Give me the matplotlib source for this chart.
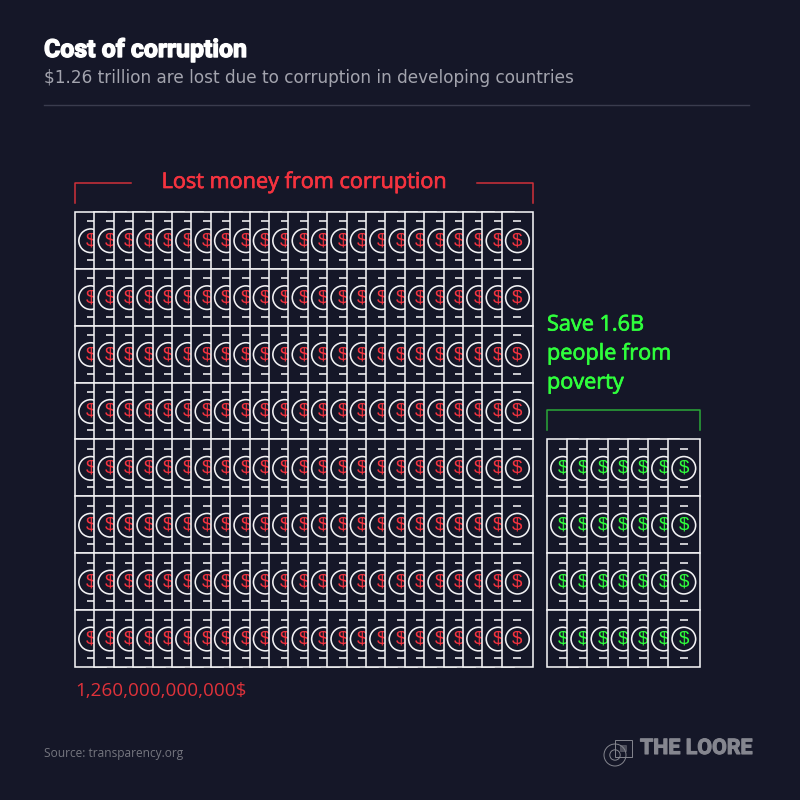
import matplotlib
matplotlib.use('Agg')
import matplotlib.pyplot as plt
from matplotlib.patches import Rectangle, Circle
import matplotlib.patheffects as pe

# one bill = one unit of money, the grid shape is what the picture shows
lost_rows = 8
lost_cols = 23
save_rows = 4
save_cols = 7

title = 'Cost of corruption'
subtitle = '$1.26 trillion are lost due to corruption in developing countries'
lost_label = 'Lost money from corruption'
lost_amount = '1,260,000,000,000$'
save_label = ['Save 1.6B', 'people from', 'poverty']
source = 'Source: transparency.org'
brand = 'THE LOORE'

bg = '#151728'
white = '#f2f2f4'
red = '#f5333f'
green = '#2fff3c'

bill_w = 31.3
bill_h = 56.9


def draw_bills(ax, left, bottom, rows, cols, step, color):
    top = bottom - rows * bill_h
    for r in range(rows):
        y = top + r * bill_h
        for c in range(cols):
            x = left + c * step
            ax.add_patch(Rectangle((x, y), bill_w, bill_h, fc=bg, ec=white, lw=1.15, zorder=2 + c))
            cx = x + bill_w / 2
            cy = y + bill_h / 2 + 0.5
            ax.add_patch(Circle((cx, cy), 11.8, fc='none', ec=white, lw=1.15, zorder=2 + c))
            ax.plot([cx - 4, cx + 4], [y + 9.5, y + 9.5], color=white, lw=1.15, zorder=2 + c, solid_capstyle='butt')
            ax.plot([cx - 4, cx + 4], [y + bill_h - 9, y + bill_h - 9], color=white, lw=1.15, zorder=2 + c, solid_capstyle='butt')
            ax.text(cx, cy, '$', color=color, fontsize=13.5, ha='center', va='center',
                    family='Liberation Sans', zorder=2 + c)


fig = plt.figure(figsize=(8, 8), dpi=100, facecolor=bg)
ax = fig.add_axes([0, 0, 1, 1])
ax.set_xlim(0, 800)
ax.set_ylim(800, 0)
ax.axis('off')

# header
t = ax.text(44, 50, title, color='white', fontsize=17.9, fontweight='bold', family='Roboto', va='center')
t.set_path_effects([pe.withStroke(linewidth=1.0, foreground='white')])
ax.text(44, 78, subtitle, color='#a3a4ae', fontsize=12.17, family='DejaVu Sans', va='center')
ax.plot([44, 749], [105, 105], color='#3a3c4e', lw=1)

# bills
draw_bills(ax, 75, 667, lost_rows, lost_cols, 19.4, red)
draw_bills(ax, 547, 667, save_rows, save_cols, 20.2, green)

# red bracket
ax.plot([75, 75, 131], [203, 183, 183], color='#d0303a', lw=1.1)
ax.plot([477, 533, 533], [183, 183, 203], color='#d0303a', lw=1.1)
l = ax.text(304, 182.5, lost_label, color=red, fontsize=15.6, family='Open Sans', ha='center', va='center')
l.set_path_effects([pe.withStroke(linewidth=0.5, foreground=red)])

# green bracket
ax.plot([547, 547, 700, 700], [430, 410, 410, 430], color='#2aa838', lw=1.1)
for i, line in enumerate(save_label):
    g = ax.text(547, 325 + i * 29, line, color=green, fontsize=15.6, family='Open Sans', va='center')
    g.set_path_effects([pe.withStroke(linewidth=0.5, foreground=green)])

ax.text(75, 691, lost_amount, color='#e0323a', fontsize=13.6, family='Open Sans', va='center')

# footer
ax.text(44, 753.5, source, color='#75767f', fontsize=8.6, family='Open Sans', va='center')
logo = '#85868f'
ax.add_patch(Circle((615, 755), 11, fc='none', ec=logo, lw=0.7))
ax.add_patch(Circle((615, 755), 5.2, fc='none', ec=logo, lw=0.7))
ax.add_patch(Rectangle((615, 740), 17, 17, fc='none', ec=logo, lw=0.7))
ax.add_patch(Rectangle((620, 745), 6, 6, fc=logo, ec=logo, lw=0.5, alpha=0.5))
b = ax.text(640, 748.5, brand, color=logo, fontsize=15.4, fontweight='bold', family='Roboto', va='center')
b.set_path_effects([pe.withStroke(linewidth=0.8, foreground=logo)])

fig.savefig('out.png', dpi=100, facecolor=bg)
